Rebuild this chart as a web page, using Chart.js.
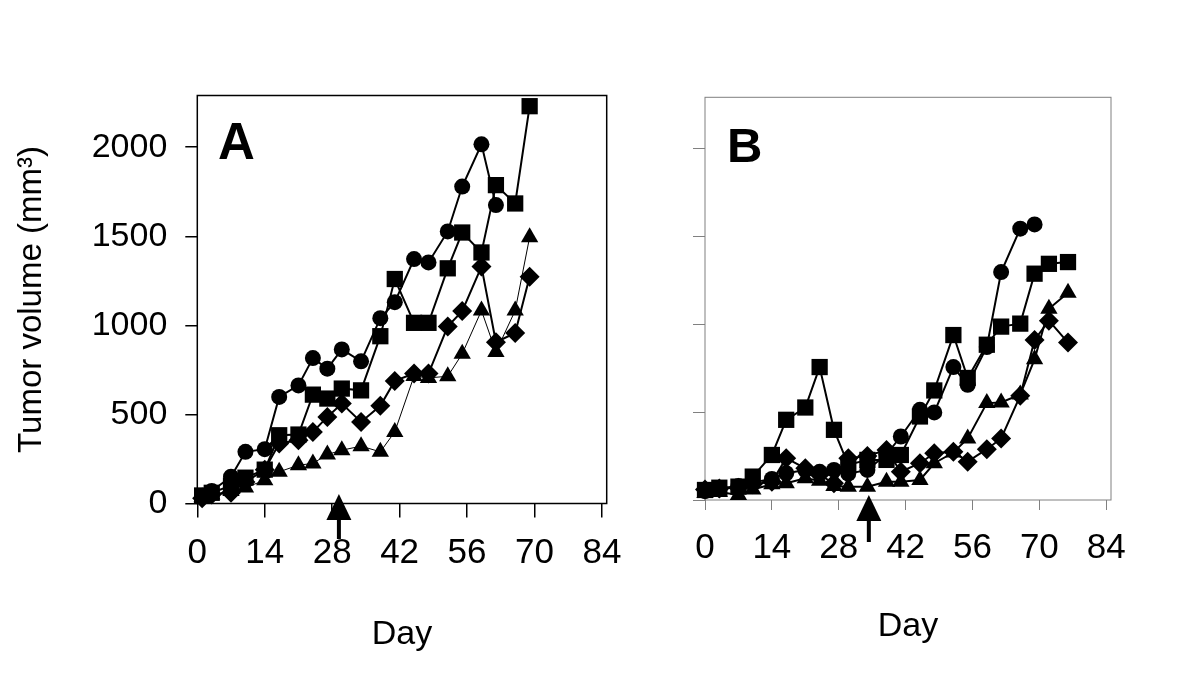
<!DOCTYPE html>
<html>
<head>
<meta charset="utf-8">
<script src="https://cdn.jsdelivr.net/npm/chart.js@4"></script>
<style>
  body { margin: 0; background: #fff; width: 1200px; height: 677px; overflow: hidden; position: relative;
         font-family: "Liberation Sans", Arial, sans-serif; }
  .wrap { position: absolute; top: 0; height: 677px; }
  #wrapA { left: 0; width: 660px; }
  #wrapB { left: 660px; width: 540px; }
  .panel { position: absolute; font-weight: bold; line-height: 1; color: #000; }
</style>
</head>
<body>
<div class="wrap" id="wrapA"><canvas id="chartA"></canvas></div>
<div class="wrap" id="wrapB"><canvas id="chartB"></canvas></div>
<div class="panel" style="left:218px;top:116px;font-size:51px">A</div>
<div class="panel" style="left:727px;top:121px;font-size:49px">B</div>
<script>
// panel A - measurement days and tumour volumes
const daysA = [1, 3, 7, 10, 14, 17, 21, 24, 27, 30, 34, 38, 41, 45, 48, 52, 55, 59, 62, 66, 69];
const circleA   = [40, 70, 150, 290, 305, 598, 663, 816, 757, 865, 798, 1040, 1130, 1372, 1353, 1527, 1779, 2016, 1675, null, null];
const squareA   = [45, 60, 100, 145, 190, 383, 387, 611, 589, 645, 635, 939, 1260, 1014, 1014, 1320, 1521, 1409, 1787, 1684, 2230];
const diamondA  = [30, 50, 60, 120, 190, 337, 355, 402, 486, 561, 458, 548, 688, 729, 729, 994, 1080, 1330, 905, 957, 1273];
const triangleA = [35, 50, 70, 90, 130, 178, 215, 225, 275, 299, 322, 290, 402, 715, 705, 714, 840, 1083, 850, 1083, 1495];

// panel B
const daysB = [0, 3, 7, 10, 14, 17, 21, 24, 27, 30, 34, 38, 41, 45, 48, 52, 55, 59, 62, 66, 69, 72, 76];
const circleB   = [50, 60, 80, 100, 120, 152, 170, 160, 171, 150, 171, 260, 361, 513, 498, 756, 655, 870, 1296, 1543, 1567, null, null];
const squareB   = [57, 70, 76, 133, 256, 456, 526, 756, 399, 200, 228, 228, 256, 475, 623, 938, 694, 883, 986, 1003, 1287, 1343, 1353];
const diamondB  = [60, 65, 70, 90, 104, 238, 180, 143, 95, 238, 250, 285, 161, 209, 266, 275, 218, 289, 350, 593, 910, 1020, 895];
const triangleB = [40, 45, 29, 60, 90, 95, 124, 110, 80, 76, 76, 104, 104, 114, 209, 270, 350, 551, 555, 600, 800, 1087, 1178];

const xTicks = [0, 14, 28, 42, 56, 70, 84];
const yTicks = [0, 500, 1000, 1500, 2000];
const treatDayA = 29.4;   // arrow
const treatDayB = 34.3;

const FONT = '"Liberation Sans", Arial, sans-serif';

const pts = (days, vals) => days.map((d, i) => ({ x: d, y: vals[i] }));

const mkSet = (days, vals, style, radius, width) => ({
  data: pts(days, vals),
  borderColor: '#000',
  backgroundColor: '#000',
  pointStyle: style,
  pointRadius: radius,
  pointBorderWidth: 0,
  borderWidth: width,
  tension: 0,
  clip: false
});

// box around plot + arrow under the axis
const framePlugin = {
  id: 'frame',
  beforeDatasetsDraw(chart, args, opts) {
    const { ctx, chartArea: a } = chart;
    ctx.save();
    ctx.strokeStyle = opts.color;
    ctx.lineWidth = opts.width;
    ctx.strokeRect(a.left, a.top, a.right - a.left, a.bottom - a.top);
    ctx.restore();
  }
};
const arrowPlugin = {
  id: 'arrow',
  afterDraw(chart, args, opts) {
    const { ctx, chartArea: a, scales } = chart;
    const x = scales.x.getPixelForValue(opts.day);
    const tip = a.bottom + opts.tip;
    ctx.save();
    ctx.fillStyle = '#000';
    ctx.strokeStyle = '#000';
    ctx.lineWidth = 4;
    ctx.beginPath();
    ctx.moveTo(x, tip + 20);
    ctx.lineTo(x, tip + opts.len);
    ctx.stroke();
    ctx.beginPath();
    ctx.moveTo(x, tip);
    ctx.lineTo(x - 12.5, tip + 26);
    ctx.lineTo(x + 12.5, tip + 26);
    ctx.closePath();
    ctx.fill();
    ctx.restore();
  }
};

function makeChart(id, cfg) {
  return new Chart(document.getElementById(id), {
    type: 'line',
    data: { datasets: cfg.datasets },
    plugins: [framePlugin, arrowPlugin],
    options: {
      responsive: true,
      maintainAspectRatio: false,
      animation: false,
      layout: { padding: cfg.padding },
      plugins: {
        legend: { display: false },
        tooltip: { enabled: false },
        frame: { color: cfg.axisColor, width: cfg.frameWidth },
        arrow: { day: cfg.arrowDay, tip: cfg.arrowTip, len: cfg.arrowLen }
      },
      scales: {
        x: {
          type: 'linear',
          min: 0,
          max: 85,
          afterBuildTicks: s => { s.ticks = xTicks.map(v => ({ value: v })); },
          afterFit: s => { s.height = cfg.xHeight; },
          border: { display: false },
          grid: { drawOnChartArea: false, drawTicks: true, tickLength: cfg.xTickLen, color: cfg.axisColor, lineWidth: cfg.frameWidth },
          ticks: { color: '#000', padding: cfg.xPad, maxRotation: 0, autoSkip: false,
                   callback: v => String(v), font: { family: FONT, size: 35 } },
          title: { display: true, text: 'Day', color: '#000', font: { family: FONT, size: 34 }, padding: { top: 0, bottom: cfg.dayPad } }
        },
        y: {
          min: 0,
          max: 2290,
          afterBuildTicks: s => { s.ticks = yTicks.map(v => ({ value: v })); },
          afterFit: s => { s.width = cfg.yWidth; },
          border: { display: false },
          grid: { drawOnChartArea: false, drawTicks: true, tickLength: 12, color: cfg.axisColor, lineWidth: cfg.frameWidth },
          ticks: { display: cfg.yLabels, color: '#000', padding: 18, callback: v => String(v), font: { family: FONT, size: 34 } },
          title: { display: cfg.yLabels, text: 'Tumor volume (mm³)', color: '#000', font: { family: FONT, size: 33 }, padding: { top: 12, bottom: 0 } }
        }
      }
    }
  });
}

makeChart('chartA', {
  datasets: [
    mkSet(daysA, triangleA, 'triangle', 10, 1),
    mkSet(daysA, diamondA, 'rectRot', 10, 2),
    mkSet(daysA, squareA, 'rect', 11.5, 2),
    mkSet(daysA, circleA, 'circle', 8, 2)
  ],
  padding: { top: 95.5, right: 53.3, bottom: 0, left: 0 },
  yWidth: 197.3,
  xHeight: 173.5,
  xTickLen: 14,
  xPad: 15,
  dayPad: 21.6,
  axisColor: '#000',
  frameWidth: 1.5,
  yLabels: true,
  arrowDay: treatDayA,
  arrowTip: -9.5,
  arrowLen: 45
});

makeChart('chartB', {
  datasets: [
    mkSet(daysB, triangleB, 'triangle', 10, 2),
    mkSet(daysB, diamondB, 'rectRot', 10, 2),
    mkSet(daysB, squareB, 'rect', 11.5, 2),
    mkSet(daysB, circleB, 'circle', 8, 2)
  ],
  padding: { top: 97.3, right: 89, bottom: 0, left: 0 },
  yWidth: 45,
  xHeight: 177,
  xTickLen: 10,
  xPad: 17,
  dayPad: 29.6,
  axisColor: '#808080',
  frameWidth: 1,
  yLabels: false,
  arrowDay: treatDayB,
  arrowTip: -5,
  arrowLen: 47
});
</script>
</body>
</html>
